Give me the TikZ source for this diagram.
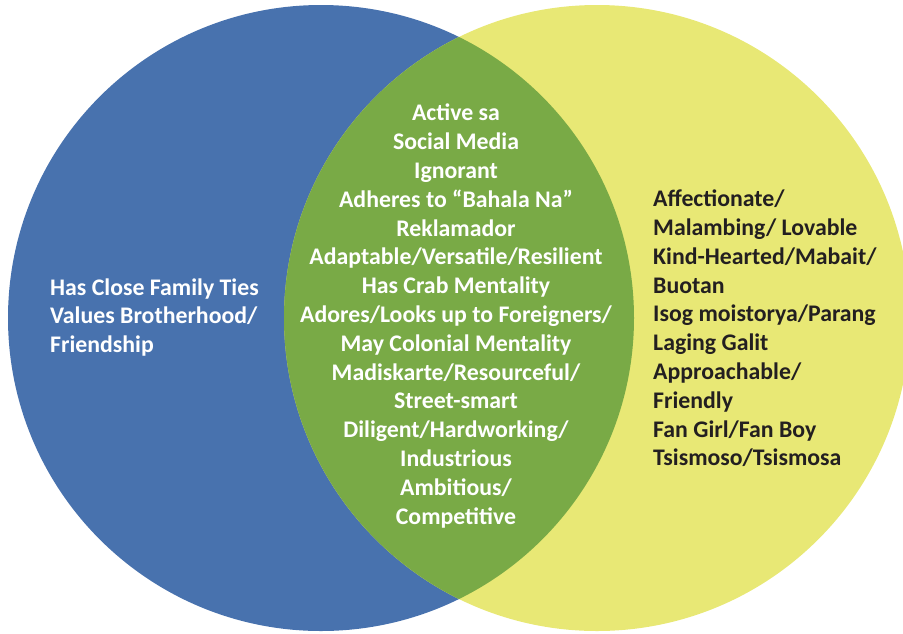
\documentclass[tikz,border=0pt]{standalone}
\usepackage{fontspec}
\setmainfont{Carlito}
\begin{document}
\begin{tikzpicture}[x=1pt,y=-1pt,
  setblue/.style={fill={rgb,255:red,72;green,114;blue,174}},
  setyellow/.style={fill={rgb,255:red,232;green,232;blue,117}},
  setgreen/.style={fill={rgb,255:red,121;green,170;blue,70}},
  listtext/.style={font=\fontsize{23.8}{28.8}\selectfont\bfseries, inner sep=0pt}]
  \useasboundingbox (0,0) rectangle (903,633);
  \clip (0,0) rectangle (903,633);
  % the two sets
  \fill[setblue] (321,318) circle (313);
  \fill[setyellow] (597,318) circle (313);
  % their overlap
  \begin{scope}
    \clip (321,318) circle (313);
    \fill[setgreen] (597,318) circle (313);
  \end{scope}
  % labels
  \node[listtext, text=white, align=left, anchor=west] (lefttraits) at (50,317.5)
    {Has Close Family Ties\\Values Brotherhood/\\Friendship};
  \node[listtext, text=white, align=center] (sharedtraits) at (456,316)
    {Active sa\\Social Media\\Ignorant\\Adheres to “Bahala Na”\\Reklamador\\
     Adaptable/Versatile/Resilient\\Has Crab Mentality\\
     Adores/Looks up to Foreigners/\\May Colonial Mentality\\
     Madiskarte/Resourceful/\\Street-smart\\Diligent/Hardworking/\\
     Industrious\\Ambitious/\\Competitive};
  \node[listtext, text={rgb,255:red,35;green,31;blue,32}, align=left, anchor=west] (righttraits) at (653,328.5)
    {Affectionate/\\Malambing/ Lovable\\Kind-Hearted/Mabait/\\Buotan\\
     Isog moistorya/Parang\\Laging Galit\\Approachable/\\Friendly\\
     Fan Girl/Fan Boy\\Tsismoso/Tsismosa};
\end{tikzpicture}
\end{document}
